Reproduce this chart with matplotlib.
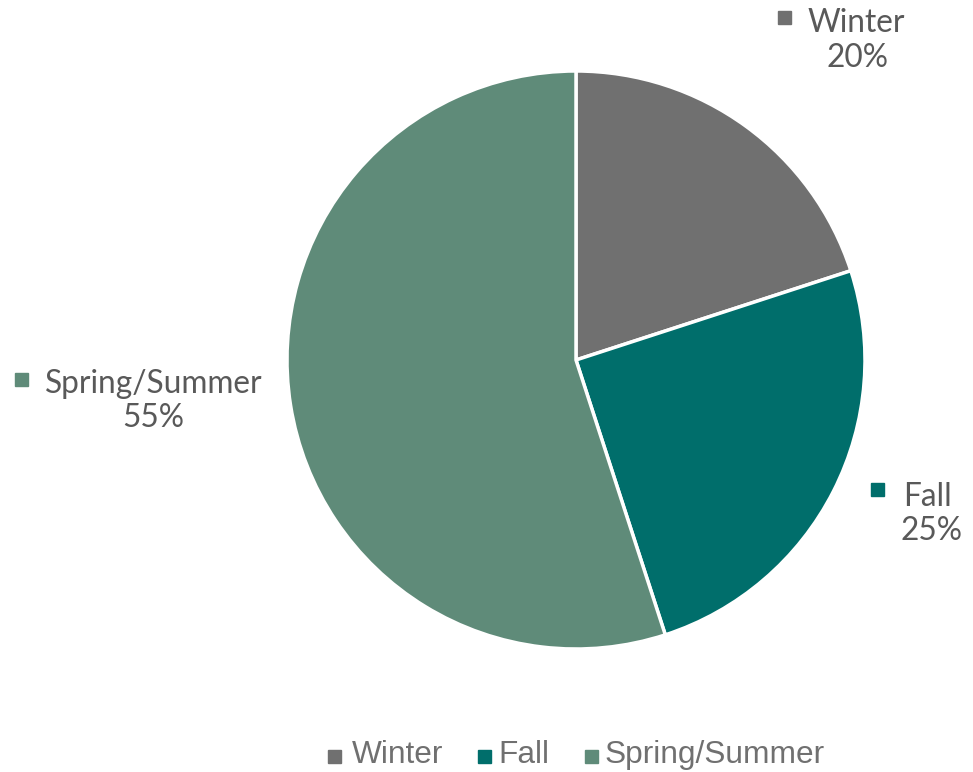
import matplotlib
matplotlib.use("Agg")
import matplotlib.pyplot as plt
from matplotlib.patches import Rectangle

categories = ["Winter", "Fall", "Spring/Summer"]
values = [20, 25, 55]
colors = ["#707070", "#006E6B", "#5F8B79"]

W, H = 973, 772
fig = plt.figure(figsize=(W / 100, H / 100), dpi=100)

cx, cy, r = 576, 360, 289
ax = fig.add_axes([(cx - r) / W, (H - cy - r) / H, 2 * r / W, 2 * r / H])
ax.pie(values, colors=colors, startangle=90, counterclock=False,
       wedgeprops=dict(edgecolor="white", linewidth=2.5))
ax.set_xlim(-1, 1)
ax.set_ylim(-1, 1)
ax.set_aspect("equal")
ax.axis("off")

def fx(x):
    return x / W

def fy(y):
    return 1 - y / H

def square(x0, y0, size, color):
    fig.patches.append(Rectangle((fx(x0), fy(y0 + size)), size / W, size / H,
                                 transform=fig.transFigure, color=color))

label_color = "#595959"
lab_font = "Lato"
lab_size = 22.8

# data labels: (marker x, marker y, name x, name baseline, pct center x, pct baseline)
label_pos = [
    (778, 11, 808, 32, 858, 67),
    (871, 483, 903, 506, 931, 540),
    (15, 373, 45, 393, 153, 427),
]
for (mx, my, tx, ty, px, py), cat, val, col in zip(label_pos, categories, values, colors):
    square(mx, my, 13, col)
    fig.text(fx(tx), fy(ty), cat, ha="left", va="baseline", fontsize=lab_size,
             family=lab_font, color=label_color)
    fig.text(fx(px), fy(py), f"{val}%", ha="center", va="baseline", fontsize=lab_size,
             family=lab_font, color=label_color)

# legend
leg_pos = [(328, 352), (478, 498), (585, 605)]
for (mx, tx), cat, col in zip(leg_pos, categories, colors):
    square(mx, 750, 13, col)
    fig.text(fx(tx), fy(763), cat, ha="left", va="baseline", fontsize=22.8,
             family="Liberation Sans", color="#707070")

fig.savefig("out.png", dpi=100)
